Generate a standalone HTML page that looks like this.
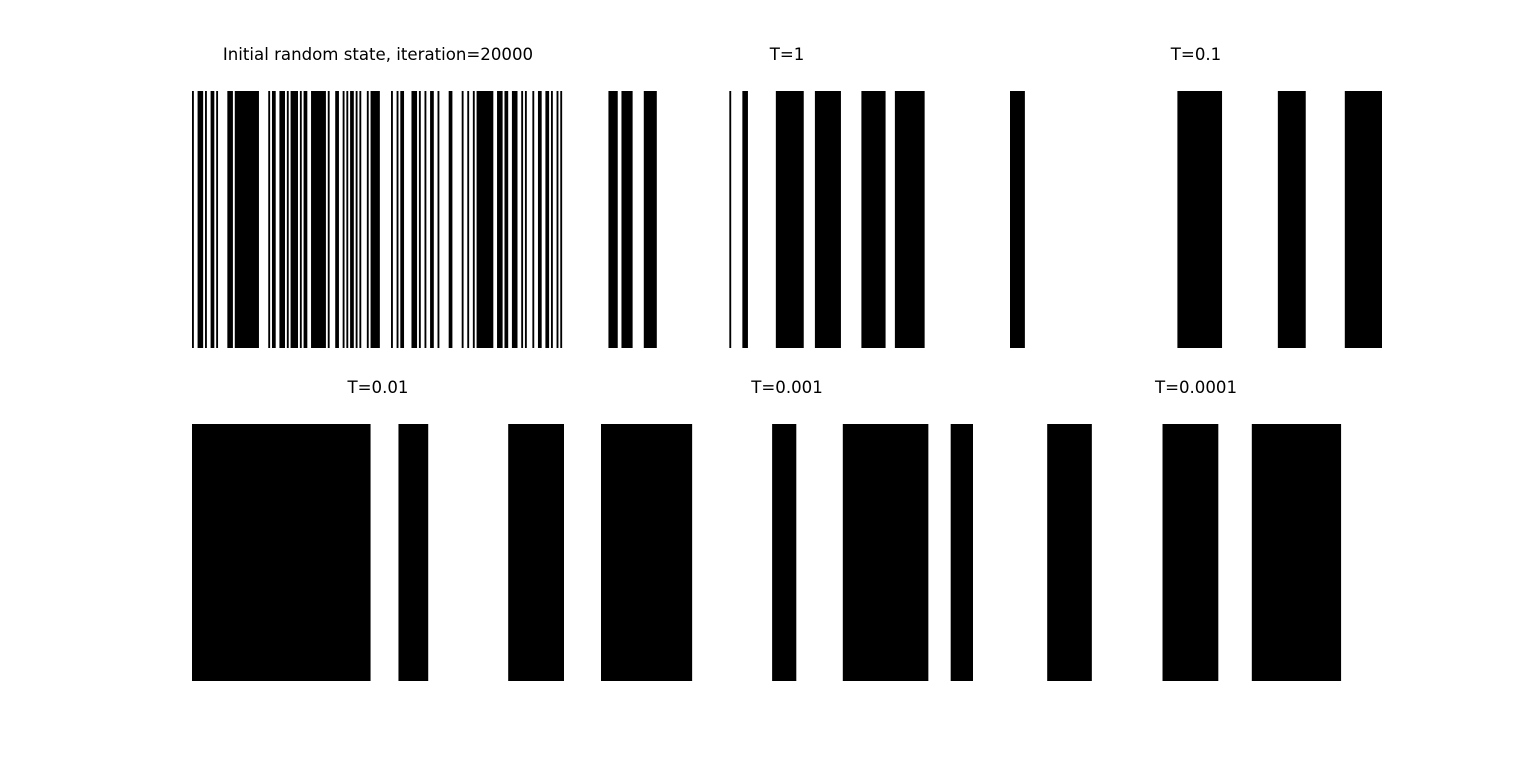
<!DOCTYPE html>
<html><head><meta charset="utf-8"><style>
html,body{margin:0;padding:0;background:#fff;}
svg{display:block;}
text{font-family:"DejaVu Sans","Liberation Sans",sans-serif;font-size:16.6px;fill:#000;}
</style></head><body>
<svg id="fig" width="1536" height="765" viewBox="0 0 1536 765" xmlns="http://www.w3.org/2000/svg"></svg>
<script>
const N = 200;
const titles = ["Initial random state, iteration=20000","T=1","T=0.1","T=0.01","T=0.001","T=0.0001"];
const runsInit = [[0,1],[3,6],[7,8],[10,12],[13,14],[19,22],[23,36],[41,42],[43,45],[47,50],[51,52],[53,57],[58,59],[60,62],[64,72],[73,74],[77,79],[81,82],[83,84],[85,87],[88,89],[90,91],[94,95],[96,101],[107,108],[110,111],[112,114],[118,121],[122,123],[125,126],[128,130],[132,133],[138,140],[145,146],[148,149],[151,152],[153,162],[164,167],[168,170],[172,175],[177,178],[179,180],[183,184],[186,188],[190,192],[193,194],[196,197],[198,199]];
const runsT1 = [[4,9],[11,17],[23,30],[69,70],[76,79],[94,109],[115,129],[140,153],[158,174]];
const runsT01 = [[0,8],[90,114],[144,159],[180,200]];
const runsT001 = [[0,96],[111,127],[170,200]];
const runsT0001 = [[0,49],[92,105],[130,176],[188,200]];
const runsT00001 = [[20,44],[82,112],[130,178]];
const allRuns = [runsInit, runsT1, runsT01, runsT001, runsT0001, runsT00001];

const NS = "http://www.w3.org/2000/svg";
const fig = document.getElementById('fig');
const panelX = [192, 601, 1010];
const panelY = [91, 424];
const PW = 372, PH = 257;
const slugs = ["initial","t1","t0-1","t0-01","t0-001","t0-0001"];
allRuns.forEach((runs, i) => {
  const x0 = panelX[i % 3], y0 = panelY[Math.floor(i / 3)];
  const sx = v => x0 + v / N * PW;
  const g = document.createElementNS(NS, 'g');
  
  
  fig.appendChild(g);
  const t = document.createElementNS(NS, 'text');
  
  
  t.setAttribute('x', x0 + PW / 2);
  t.setAttribute('y', y0 - 31);
  t.setAttribute('text-anchor', 'middle');
  t.textContent = titles[i];
  g.appendChild(t);
  runs.forEach(r => {
    const rc = document.createElementNS(NS, 'rect');
    
    
    rc.setAttribute('x', sx(r[0]));
    rc.setAttribute('y', y0);
    rc.setAttribute('width', sx(r[1]) - sx(r[0]));
    rc.setAttribute('height', PH);
    rc.setAttribute('fill', '#000');
    g.appendChild(rc);
  });
});
</script>
</body></html>
